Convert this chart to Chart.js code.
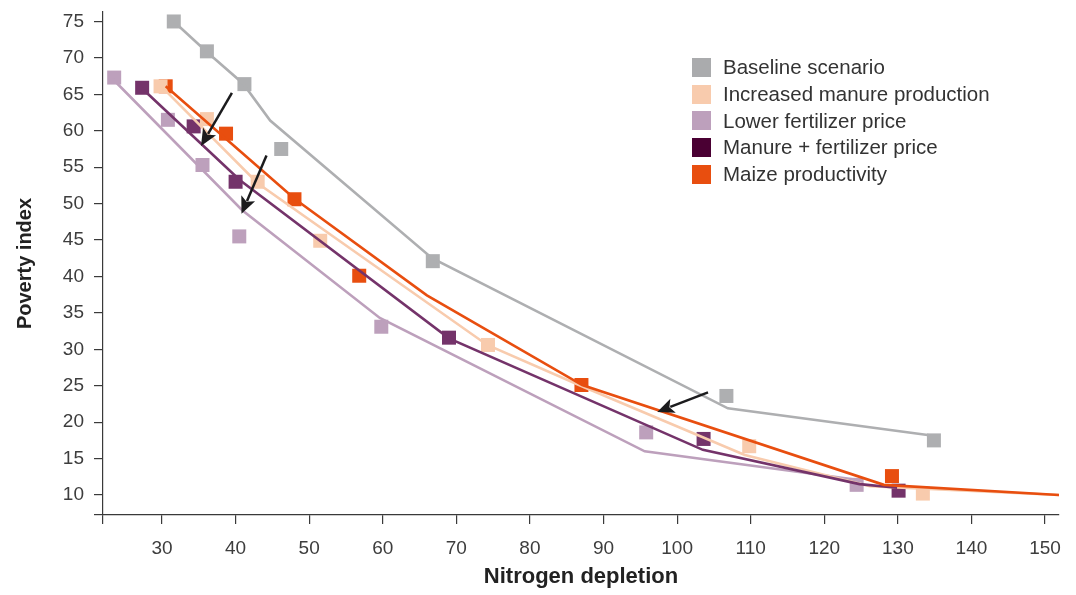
<!DOCTYPE html>
<html><head><meta charset="utf-8">
<script src="https://cdn.jsdelivr.net/npm/chart.js@4.4.1/dist/chart.umd.min.js"></script>
<style>
html,body{margin:0;padding:0;background:#fff;}
#wrap{position:relative;width:1076px;height:595px;}
#legend{position:absolute;left:692px;top:54px;font-family:"Liberation Sans",Arial,sans-serif;font-size:20.5px;color:#333;}
.row{display:flex;align-items:center;height:26.7px;white-space:nowrap;}
.sw{width:19px;height:19px;margin-right:12px;flex:none;}
</style></head><body>
<div id="wrap"><canvas id="c" width="1076" height="595"></canvas><div id="legend"></div></div>
<script>
// ---- data ----
const seriesNames = ['Baseline scenario','Increased manure production','Lower fertilizer price','Manure + fertilizer price','Maize productivity'];
const legendColors = ['#aaabad','#f8cbad','#bda0bc','#4a0033','#e84e0f'];
const markColors = ['#aeafb1','#f8cbad','#bda0bc','#74336a','#e84e0f'];

// scatter points
const baselineX = [31.6, 36.1, 41.2, 46.2, 66.8, 106.7, 134.9];
const baselineY = [75.0, 70.9, 66.4, 57.5, 42.1, 23.6, 17.5];
const manureX = [29.8, 36.1, 43.0, 51.5, 74.3, 109.8, 133.4];
const manureY = [66.1, 61.6, 53.0, 44.9, 30.6, 16.7, 10.2];
const fertX = [23.5, 30.8, 35.5, 40.5, 59.8, 95.8, 124.4];
const fertY = [67.3, 61.5, 55.3, 45.5, 33.1, 18.6, 11.4];
const comboX = [27.3, 34.3, 40.0, 69.0, 103.6, 130.1];
const comboY = [65.9, 60.6, 53.0, 31.6, 17.7, 10.6];
const maizeX = [30.5, 38.7, 48.0, 56.8, 87.0, 129.2];
const maizeY = [66.1, 59.6, 50.6, 40.1, 25.1, 12.6];

// fitted lines
const baselineLineX = [31.6, 36.1, 41.0, 44.7, 66.7, 106.9, 134.3];
const baselineLineY = [75.0, 70.8, 66.5, 61.4, 42.5, 21.9, 18.2];
const manureLineX = [30.0, 43.0, 74.2, 86.9, 109.2, 126.2, 151.9];
const manureLineY = [66.0, 52.8, 30.6, 25.0, 15.5, 11.2, 10.0];
const fertLineX = [23.3, 40.9, 59.6, 95.6, 124.4];
const fertLineY = [67.1, 49.1, 34.3, 16.0, 12.1];
const comboLineX = [27.3, 40.6, 69.0, 103.5, 124.8, 129.9];
const comboLineY = [65.8, 53.2, 31.5, 16.2, 11.5, 11.0];
const maizeLineX = [30.5, 48.1, 66.0, 87.1, 128.1, 151.9];
const maizeLineY = [66.1, 50.6, 37.4, 25.1, 11.4, 10.0];

// annotation arrows (data units)
const arrowFromX = [39.5, 44.2, 104.2];
const arrowFromY = [65.2, 56.6, 24.1];
const arrowToX = [35.3, 40.8, 97.3];
const arrowToY = [57.9, 48.6, 21.4];

// ticks
const xTickValues = [30,40,50,60,70,80,90,100,110,120,130,140,150];
const yTickValues = [10,15,20,25,30,35,40,45,50,55,60,65,70,75];
const xMin = 21.98, xMax = 151.9, yMin = 7.26, yMax = 76.3;

// ---- build ----
const zip = (xs, ys) => xs.map((x, i) => ({x, y: ys[i]}));
const pointSets = [[baselineX, baselineY],[manureX, manureY],[fertX, fertY],[comboX, comboY],[maizeX, maizeY]];
const lineSets = [[baselineLineX, baselineLineY],[manureLineX, manureLineY],[fertLineX, fertLineY],[comboLineX, comboLineY],[maizeLineX, maizeLineY]];
const lineOrder = [5, 3, 4, 2, 1];

const datasets = [];
lineSets.forEach((s, i) => datasets.push({
  type: 'line', label: seriesNames[i] + ' (fit)', data: zip(s[0], s[1]),
  borderColor: markColors[i], borderWidth: 2.6, pointRadius: 0, fill: false, tension: 0,
  order: lineOrder[i]
}));
pointSets.forEach((s, i) => datasets.push({
  type: 'scatter', label: seriesNames[i], data: zip(s[0], s[1]),
  backgroundColor: markColors[i], borderWidth: 0, pointStyle: 'rect', pointRadius: 9.9,
  order: 10
}));

const FONT = '"Liberation Sans", Arial, sans-serif';

const arrowPlugin = {
  id: 'arrows',
  afterDatasetsDraw(chart) {
    const {ctx, scales: {x, y}} = chart;
    ctx.save();
    ctx.strokeStyle = '#1b1b1d'; ctx.fillStyle = '#1b1b1d'; ctx.lineWidth = 2.5;
    arrowFromX.forEach((fx, i) => {
      const x0 = x.getPixelForValue(fx), y0 = y.getPixelForValue(arrowFromY[i]);
      const x1 = x.getPixelForValue(arrowToX[i]), y1 = y.getPixelForValue(arrowToY[i]);
      const a = Math.atan2(y1 - y0, x1 - x0);
      const L = 17, W = 7.5;
      const bx = x1 - L * Math.cos(a), by = y1 - L * Math.sin(a);
      ctx.beginPath(); ctx.moveTo(x0, y0); ctx.lineTo(bx + 3*Math.cos(a), by + 3*Math.sin(a)); ctx.stroke();
      ctx.beginPath();
      ctx.moveTo(x1, y1);
      ctx.lineTo(bx + W * Math.sin(a), by - W * Math.cos(a));
      ctx.lineTo(bx + 4*Math.cos(a), by + 4*Math.sin(a));
      ctx.lineTo(bx - W * Math.sin(a), by + W * Math.cos(a));
      ctx.closePath(); ctx.fill();
    });
    ctx.restore();
  }
};

new Chart(document.getElementById('c'), {
  data: { datasets },
  options: {
    responsive: false, devicePixelRatio: 1, animation: false,
    layout: { padding: { left: 0, right: 17, top: 12, bottom: 0 } },
    plugins: { legend: { display: false }, tooltip: { enabled: false } },
    scales: {
      x: {
        type: 'linear', min: xMin, max: xMax,
        afterBuildTicks: s => { s.ticks = [{value: xMin}].concat(xTickValues.map(v => ({value: v}))); },
        afterFit: s => { s.height = 80; s.paddingLeft = 0; s.paddingRight = 0; },
        ticks: { callback: v => xTickValues.includes(v) ? String(v) : '', font: { family: FONT, size: 19 }, color: '#3d3d3d', padding: 13, maxRotation: 0, autoSkip: false },
        grid: { drawOnChartArea: false, drawTicks: true, tickLength: 9, color: '#3a3a3a', lineWidth: 1.2 },
        border: { color: '#3a3a3a', width: 1.2 },
        title: { display: true, text: 'Nitrogen depletion', font: { family: FONT, size: 22, weight: 'bold' }, color: '#222', padding: { top: 0, bottom: 5 } }
      },
      y: {
        type: 'linear', min: yMin, max: yMax,
        afterBuildTicks: s => { s.ticks = [{value: yMin}].concat(yTickValues.map(v => ({value: v}))); },
        afterFit: s => { s.width = 103; s.paddingTop = 0; s.paddingBottom = 0; },
        ticks: { callback: v => yTickValues.includes(v) ? String(v) : '', font: { family: FONT, size: 19 }, color: '#3d3d3d', padding: 10, autoSkip: false },
        grid: { drawOnChartArea: false, drawTicks: true, tickLength: 9, color: '#3a3a3a', lineWidth: 1.2 },
        border: { color: '#3a3a3a', width: 1.2 },
        title: { display: true, text: 'Poverty index', font: { family: FONT, size: 20, weight: 'bold' }, color: '#222', padding: { top: 13, bottom: 0 } }
      }
    }
  },
  plugins: [arrowPlugin]
});

// HTML legend
const lg = document.getElementById('legend');
seriesNames.forEach((n, i) => {
  const r = document.createElement('div'); r.className = 'row';
  const sw = document.createElement('span'); sw.className = 'sw'; sw.style.background = legendColors[i];
  const t = document.createElement('span'); t.textContent = n;
  r.appendChild(sw); r.appendChild(t); lg.appendChild(r);
});
</script>
</body></html>
